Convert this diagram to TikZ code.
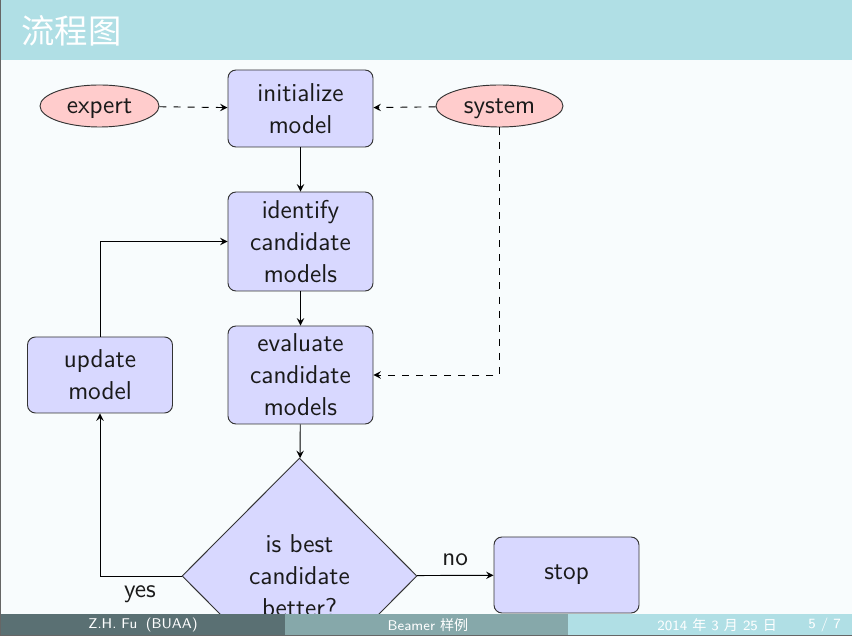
\documentclass[tikz,border=0pt]{standalone}
\usepackage{fontspec}
\newfontfamily\cjk{Noto Sans CJK SC}
\usetikzlibrary{shapes.geometric,arrows}
\definecolor{titlebg}{HTML}{B0DFE5}
\definecolor{pagebg}{HTML}{F8FCFD}
\definecolor{footA}{HTML}{5A7073}
\definecolor{footB}{HTML}{86A8AA}
\definecolor{boxfill}{HTML}{D8D8FF}
\definecolor{ellfill}{HTML}{FFCCCC}
\definecolor{txt}{HTML}{1A1A1A}
\def\px{0.42587pt}
\begin{document}
\begin{tikzpicture}[x=0.42587pt,y=-0.42587pt,>=stealth,
  every node/.style={font=\sffamily\fontsize{11}{13.6}\selectfont, text=txt},
  blockbox/.style={rectangle, rounded corners=8*\px, draw=black!80, fill=boxfill,
     minimum width=145*\px, align=center, inner sep=0pt},
  cloudell/.style={ellipse, draw=black!80, fill=ellfill, minimum width=119*\px,
     minimum height=42*\px, inner sep=0pt, text height=7.4pt, text depth=1.2pt},
  decide/.style={diamond, draw=black!80, fill=boxfill, minimum width=235*\px,
     minimum height=236*\px, align=center, inner sep=0pt},
  line/.style={draw=black, line width=0.4pt},
  dline/.style={draw=black, dashed, line width=0.4pt},
  foottxt/.style={font=\sffamily\fontsize{6}{7}\selectfont, text=white, inner sep=0pt}]
\useasboundingbox (0,0) rectangle (852,636);
\fill[pagebg] (0,0) rectangle (852,636);
\fill[titlebg] (0,0) rectangle (852,60);
\node[anchor=west, inner sep=0pt, font=\cjk\fontsize{14.2}{17}\selectfont, text=white] (title) at (21,31) {流程图};

\node[blockbox, minimum height=77*\px] (init) at (300.5,108.5) {initialize\\model};
\node[blockbox, minimum height=99*\px] (ident) at (300.5,241.5) {identify\\candidate\\models};
\node[blockbox, minimum height=98*\px] (eval) at (300.5,375) {evaluate\\candidate\\models};
\node[blockbox, minimum height=76*\px] (update) at (100,375) {update\\model};
\node[decide] (dec) at (299.5,576) {is best\\candidate\\better?};
\node[blockbox, minimum height=76*\px] (stop) at (566.5,575) {stop};
\node[cloudell] (expert) at (99.5,106) {expert};
\node[cloudell, minimum width=127*\px] (system) at (499.5,106) {system};

\path[dline,->] (expert) -- (init);
\path[dline,->] (system) -- (init);
\path[dline,->] (system) |- (eval);
\path[line,->] (init) -- (ident);
\path[line,->] (ident) -- (eval);
\path[line,->] (eval) -- (dec);
\path[line,->] (dec) -| node[pos=0.255, below, inner sep=4pt] (yes) {yes} (update);
\path[line,->] (update) |- (ident);
\path[line,->] (dec) -- node[above, pos=0.5, inner sep=4pt] (no) {no} (stop);

\fill[footA] (0,614) rectangle (285,636);
\fill[footB] (285,614) rectangle (568,636);
\fill[titlebg] (568,614) rectangle (852,636);
\node[foottxt] (fauthor) at (143,625) {Z.H. Fu\hspace{0.6em}(BUAA)};
\node[foottxt] (ftitle) at (428,625) {Beamer {\cjk 样例}};
\node[foottxt, anchor=west] (fdate) at (657,625) {2014 {\cjk 年} 3 {\cjk 月} 25 {\cjk 日}};
\node[foottxt, anchor=west] (fpage) at (808,625) {5 / 7};
\draw[gray!80!black, line width=1.2*\px] (0.5,0) -- (0.5,635.5) -- (852,635.5);
\end{tikzpicture}
\end{document}
